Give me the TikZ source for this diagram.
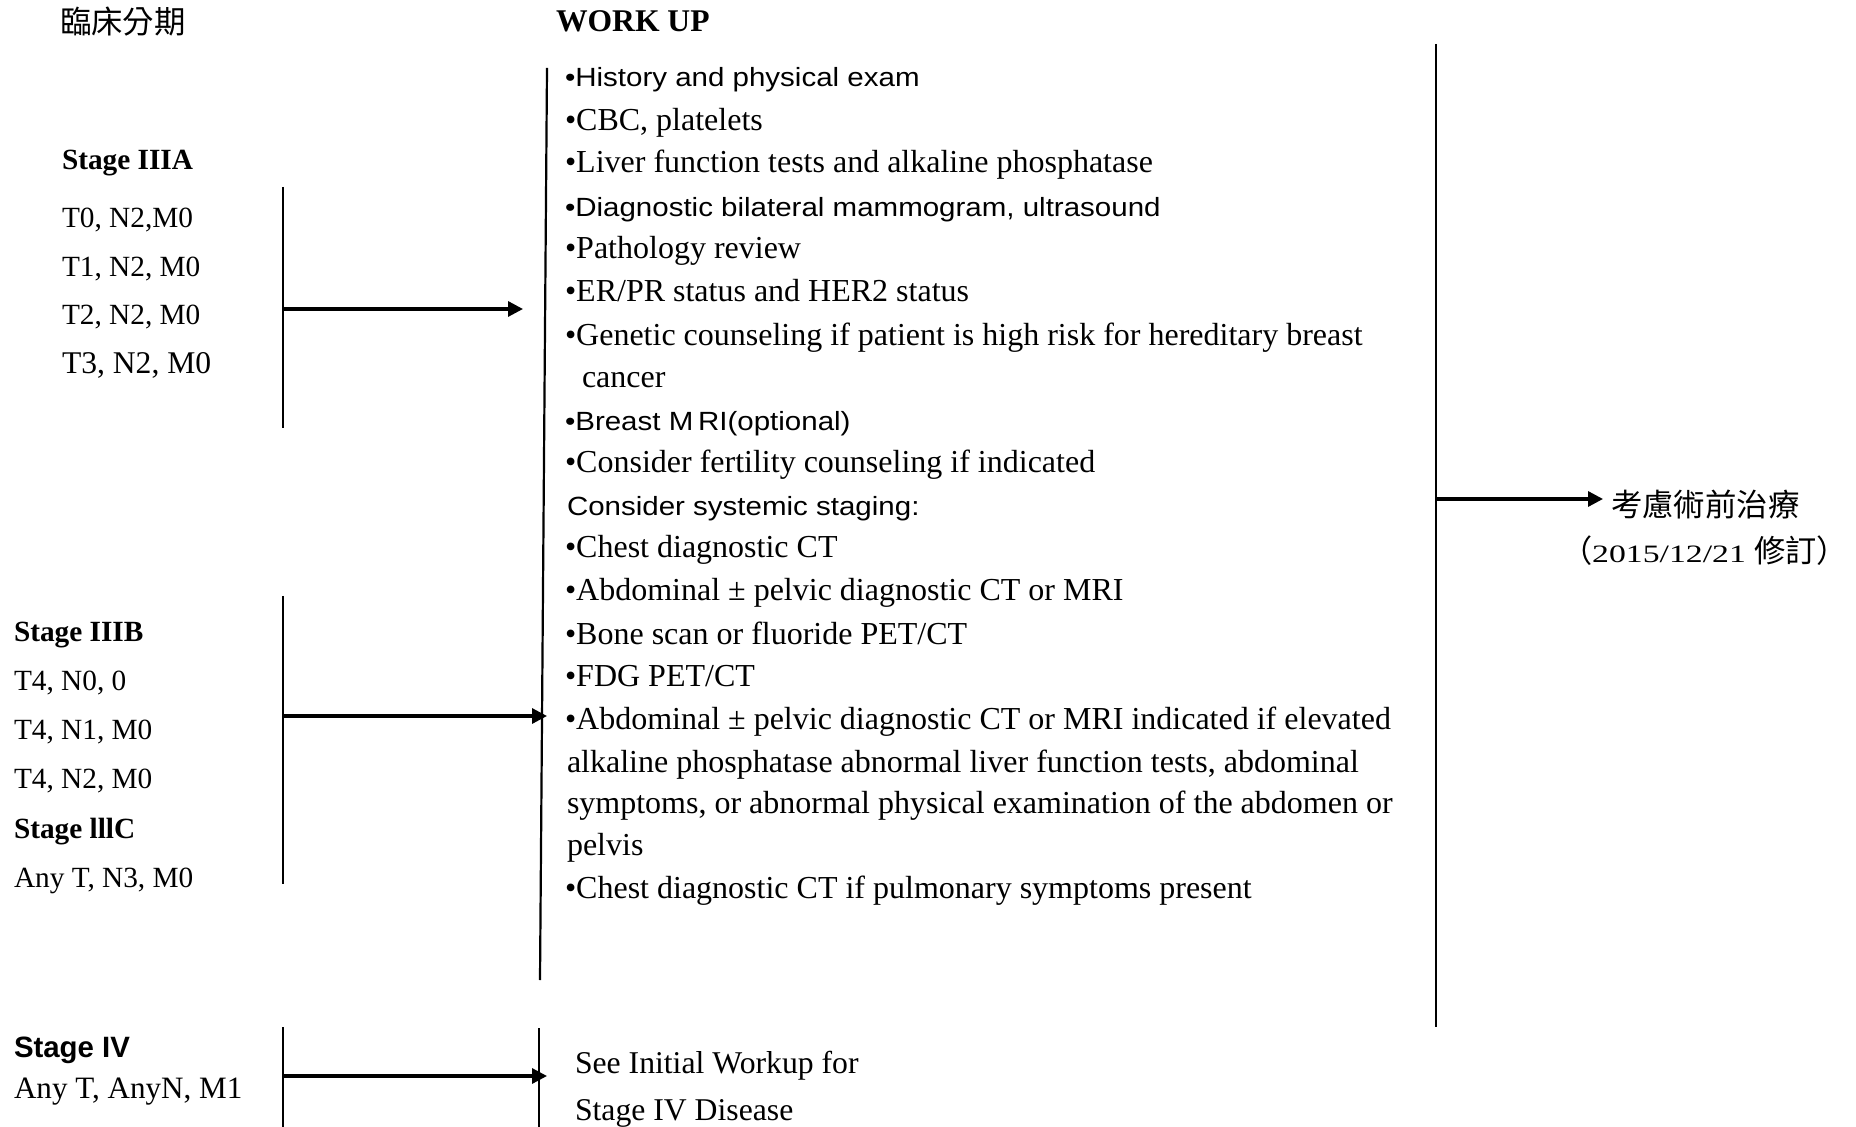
\documentclass[tikz,border=0pt]{standalone}
\usepackage{fontspec}
\setmainfont{Liberation Serif}
\newfontfamily\arialwide{Liberation Sans}[FakeStretch=1.12]
\newfontfamily\arialplain{Liberation Sans}
\newfontfamily\cjkfont{Noto Sans CJK TC}
\newfontfamily\datefont{Liberation Serif}[FakeStretch=1.35]
\usetikzlibrary{arrows.meta}
\begin{document}
\begin{tikzpicture}[x=0.5pt,y=-0.5pt,
  txt/.style={anchor=base west,inner sep=0pt,outer sep=0pt},
  stagetxt/.style={txt,font=\fontsize{14.65pt}{18pt}\selectfont},
  stagebig/.style={txt,font=\fontsize{15.8pt}{19pt}\selectfont},
  stagehead/.style={txt,font=\fontsize{14.65pt}{18pt}\selectfont\bfseries},
  itemtxt/.style={txt,font=\fontsize{16pt}{19pt}\selectfont},
  itemsans/.style={txt,font=\arialwide\fontsize{13.17pt}{19pt}\selectfont},
  cjktxt/.style={txt,font=\cjkfont\fontsize{15.7pt}{19pt}\selectfont},
  bar/.style={line width=1.1pt},
  feed/.style={line width=1.6pt,-{Triangle[length=7.5pt,width=7.5pt]}},
]
\useasboundingbox (0,0) rectangle (1856,1127);
\fill[white] (0,0) rectangle (1856,1127);

% ---- column headings
\node[cjktxt] (hdStage) at (60,34) {臨床分期};
\node[txt,font=\fontsize{15.8pt}{19pt}\selectfont\bfseries] (hdWork) at (556,32) {WORK UP};

% ---- stage groups
\node[stagehead] (s3a) at (62,170) {Stage IIIA};
\node[stagetxt] (s3a1) at (62,228) {T0, N2,M0};
\node[stagetxt] (s3a2) at (62,277) {T1, N2, M0};
\node[stagetxt] (s3a3) at (62,325) {T2, N2, M0};
\node[stagebig] (s3a4) at (62,374) {T3, N2, M0};

\node[stagehead] (s3b) at (14,641) {Stage IIIB};
\node[stagetxt] (s3b1) at (14,690) {T4, N0, 0};
\node[stagetxt] (s3b2) at (14,739) {T4, N1, M0};
\node[stagetxt] (s3b3) at (14,788) {T4, N2, M0};
\node[stagehead] (s3c) at (14,838) {Stage lllC};
\node[stagetxt] (s3c1) at (14,887) {Any T, N3, M0};

\node[txt,font=\arialplain\fontsize{14.7pt}{18pt}\selectfont\bfseries] (s4) at (14,1057) {Stage IV};
\node[txt,font=\fontsize{15.55pt}{19pt}\selectfont] (s41) at (14,1098) {Any T, AnyN, M1};

% ---- work-up list
\node[itemsans] (w0)  at (565,87)  {•History and physical exam};
\node[itemtxt]  (w1)  at (565,131) {•CBC, platelets};
\node[itemtxt]  (w2)  at (565,173) {•Liver function tests and alkaline phosphatase};
\node[itemsans] (w3)  at (565,217) {•Diagnostic bilateral mammogram, ultrasound};
\node[itemtxt]  (w4)  at (565,259) {•Pathology review};
\node[itemtxt]  (w5)  at (565,302) {•ER/PR status and HER2 status};
\node[itemtxt]  (w6)  at (565,346) {•Genetic counseling if patient is high risk for hereditary breast};
\node[itemtxt]  (w7)  at (582,388) {cancer};
\node[itemsans] (w8)  at (565,431) {•Breast M\kern0.18em RI(optional)};
\node[itemtxt]  (w9)  at (565,473) {•Consider fertility counseling if indicated};
\node[itemsans] (w10) at (567,516) {Consider systemic staging:};
\node[itemtxt]  (w11) at (565,558) {•Chest diagnostic CT};
\node[itemtxt]  (w12) at (565,601) {•Abdominal ± pelvic diagnostic CT or MRI};
\node[itemtxt]  (w13) at (565,644) {•Bone scan or fluoride PET/CT};
\node[itemtxt]  (w14) at (565,686) {•FDG PET/CT};
\node[itemtxt]  (w15) at (565,729) {•Abdominal ± pelvic diagnostic CT or MRI indicated if elevated};
\node[itemtxt]  (w16) at (567,772) {alkaline phosphatase abnormal liver function tests, abdominal};
\node[itemtxt]  (w17) at (567,813) {symptoms, or abnormal physical examination of the abdomen or};
\node[itemtxt]  (w18) at (567,855) {pelvis};
\node[itemtxt]  (w19) at (565,898) {•Chest diagnostic CT if pulmonary symptoms present};

% ---- stage IV pointer text
\node[txt,font=\fontsize{15.85pt}{19pt}\selectfont] (seeA) at (575,1073) {See Initial Workup for};
\node[txt,font=\fontsize{15.85pt}{19pt}\selectfont] (seeB) at (575,1120) {Stage IV Disease};

% ---- outcome
\node[cjktxt] (treat) at (1611,517) {考慮術前治療};
\node[txt,font=\cjkfont\fontsize{15.6pt}{19pt}\selectfont] (rev) at (1561,563)
  {（{\datefont\fontsize{12.5pt}{15pt}\selectfont 2015/12/21 }修訂）};

% ---- bracket bars
\coordinate (barAtop) at (283,187);  \coordinate (barAbot) at (283,428);
\coordinate (barBtop) at (283,596);  \coordinate (barBbot) at (283,884);
\coordinate (barCtop) at (283,1027); \coordinate (barCbot) at (283,1127);
\coordinate (midtop)  at (547,68);   \coordinate (midbot)  at (540,980);
\coordinate (ivtop)   at (539,1028); \coordinate (ivbot)   at (539,1127);
\coordinate (righttop) at (1436,44); \coordinate (rightbot) at (1436,1027);

\draw[bar] (barAtop) -- (barAbot);
\draw[bar] (barBtop) -- (barBbot);
\draw[bar] (barCtop) -- (barCbot);
\draw[bar] (midtop) -- (midbot);
\draw[bar] (ivtop) -- (ivbot);
\draw[bar] (righttop) -- (rightbot);

% ---- arrows
\coordinate (aA) at (283,309);  \coordinate (tA) at (523,309);
\coordinate (aB) at (283,716);  \coordinate (tB) at (547,716);
\coordinate (aC) at (283,1076); \coordinate (tC) at (547,1076);
\coordinate (aR) at (1436,499); \coordinate (tR) at (1603,499);

\draw[feed] (aA) -- (tA);
\draw[feed] (aB) -- (tB);
\draw[feed] (aC) -- (tC);
\draw[feed] (aR) -- (tR);
\end{tikzpicture}
\end{document}
